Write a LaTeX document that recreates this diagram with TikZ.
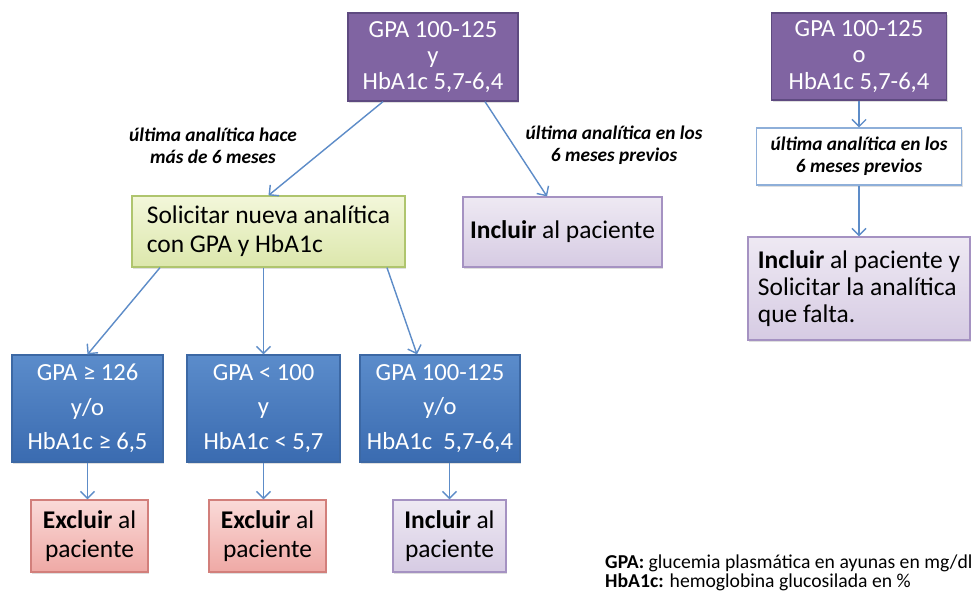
\documentclass[tikz,border=0pt]{standalone}
\usepackage{fontspec}
\setmainfont{Carlito}
\usetikzlibrary{arrows.meta,shadows}

\definecolor{morado}{HTML}{8064A2}
\definecolor{moradoborde}{HTML}{5E4A80}
\definecolor{azulclaro}{HTML}{5B8CCB}
\definecolor{azuloscuro}{HTML}{3A6BB0}
\definecolor{azulborde}{HTML}{3C68A4}
\definecolor{verdeclaro}{HTML}{F3F7DA}
\definecolor{verdeoscuro}{HTML}{DCE7AC}
\definecolor{verdeborde}{HTML}{AFC56E}
\definecolor{lilaclaro}{HTML}{EEE9F3}
\definecolor{lilaoscuro}{HTML}{D6CBE3}
\definecolor{lilaborde}{HTML}{A592C2}
\definecolor{rosaclaro}{HTML}{FADAD8}
\definecolor{rosaoscuro}{HTML}{EFA9A5}
\definecolor{rosaborde}{HTML}{D27F7B}
\definecolor{flechaazul}{HTML}{5D8CC8}

\tikzset{
  caja/.style={rectangle, align=center, inner sep=1pt, line width=0.7pt,
    drop shadow={opacity=0.25, shadow xshift=0.8pt, shadow yshift=-1.2pt}},
  morada/.style={caja, fill=morado, draw=moradoborde, text=white,
    font=\fontsize{14}{15}\selectfont},
  azul/.style={caja, top color=azulclaro, bottom color=azuloscuro, draw=azulborde,
    text=white, font=\fontsize{14}{19.5}\selectfont, minimum height=2.14cm},
  verde/.style={caja, top color=verdeclaro, bottom color=verdeoscuro, draw=verdeborde,
    font=\fontsize{14.5}{16.5}\selectfont},
  lila/.style={caja, top color=lilaclaro, bottom color=lilaoscuro, draw=lilaborde,
    font=\fontsize{14.5}{16.5}\selectfont},
  rosa/.style={caja, top color=rosaclaro, bottom color=rosaoscuro, draw=rosaborde,
    font=\fontsize{14.5}{16.5}\selectfont},
  blanca/.style={caja, fill=white, draw=flechaazul!70, line width=0.6pt,
    font=\fontsize{11}{12.5}\selectfont\bfseries\itshape},
  etiqueta/.style={align=center, font=\fontsize{11}{12.5}\selectfont\bfseries\itshape},
  flecha/.style={draw=flechaazul, line width=0.8pt,
    -{Straight Barb[length=4pt,width=8pt]}}
}

\begin{document}
\begin{tikzpicture}[x=0.02cm,y=-0.02cm]
  \path[use as bounding box, fill=white] (0,0) rectangle (976,594);

  % columna derecha
  \node[morada, minimum width=3.5cm, minimum height=1.74cm] (gpaO) at (859,56.5)
    {GPA 100-125\\o\\HbA1c 5,7-6,4};
  \node[blanca, minimum width=4.1cm, minimum height=1.14cm] (previosR) at (859,156.5)
    {última analítica en los\\6 meses previos};
  \node[lila, minimum width=4.44cm, minimum height=2.06cm,
    align=left, font=\fontsize{14.5}{15.4}\selectfont] (incluirR) at (859,288.5)
    {\textbf{Incluir} al paciente y\\Solicitar la analítica\\que falta.};

  % arbol principal
  \node[morada, minimum width=3.4cm, minimum height=1.76cm] (gpaY) at (433,57)
    {GPA 100-125\\y\\HbA1c 5,7-6,4};
  \node[verde, minimum width=5.46cm, minimum height=1.42cm,
    align=left] (solicitar) at (268.5,231.5)
    {Solicitar nueva analítica\\con GPA y HbA1c};
  \node[lila, minimum width=3.98cm, minimum height=1.4cm] (incluir) at (562.5,232)
    {\textbf{Incluir} al paciente};

  \node[etiqueta] (masDe6) at (213,146) {última analítica hace\\más de 6 meses};
  \node[etiqueta] (en6) at (614,145) {última analítica en los\\6 meses previos};

  \node[azul, minimum width=3.02cm] (gpaAlto) at (87.5,408.5)
    {GPA ≥ 126\\y/o\\HbA1c ≥ 6,5};
  \node[azul, minimum width=3.06cm] (gpaBajo) at (263.5,408.5)
    {GPA < 100\\y\\HbA1c < 5,7};
  \node[azul, minimum width=3.2cm] (gpaMedio) at (440,408.5)
    {GPA 100-125\\y/o\\HbA1c~~5,7-6,4};

  \node[rosa, minimum width=2.34cm, minimum height=1.44cm] (excluirA) at (89.5,536)
    {\textbf{Excluir} al\\paciente};
  \node[rosa, minimum width=2.34cm, minimum height=1.44cm] (excluirB) at (267.5,536)
    {\textbf{Excluir} al\\paciente};
  \node[lila, minimum width=2.26cm, minimum height=1.44cm] (incluirC) at (449.5,536)
    {\textbf{Incluir} al\\paciente};

  \node[anchor=west, align=left, font=\fontsize{11.2}{10.8}\selectfont] (leyenda) at (599,572.5)
    {\textbf{GPA:} glucemia plasmática en ayunas en mg/dl\\
     \textbf{HbA1c:} hemoglobina glucosilada en \%};

  % conectores
  \draw[flecha] ([xshift=-1cm]gpaY.south) -- (solicitar.north);
  \draw[flecha] ([xshift=1.04cm]gpaY.south) -- ([xshift=-0.31cm]incluir.north);
  \draw[flecha] ([xshift=-2.17cm]solicitar.south) -- (gpaAlto.north);
  \draw[flecha] (solicitar.south -| gpaBajo.north) -- (gpaBajo.north);
  \draw[flecha] ([xshift=2.37cm]solicitar.south) -- ([xshift=-0.46cm]gpaMedio.north);
  \draw[flecha] (gpaAlto.south) -- (gpaAlto.south |- excluirA.north);
  \draw[flecha] (gpaBajo.south) -- (gpaBajo.south |- excluirB.north);
  \draw[flecha] (gpaMedio.south -| incluirC.north) -- (incluirC.north);
  \draw[flecha] (gpaO.south) -- (previosR.north);
  \draw[flecha] (previosR.south) -- (incluirR.north);
\end{tikzpicture}
\end{document}
